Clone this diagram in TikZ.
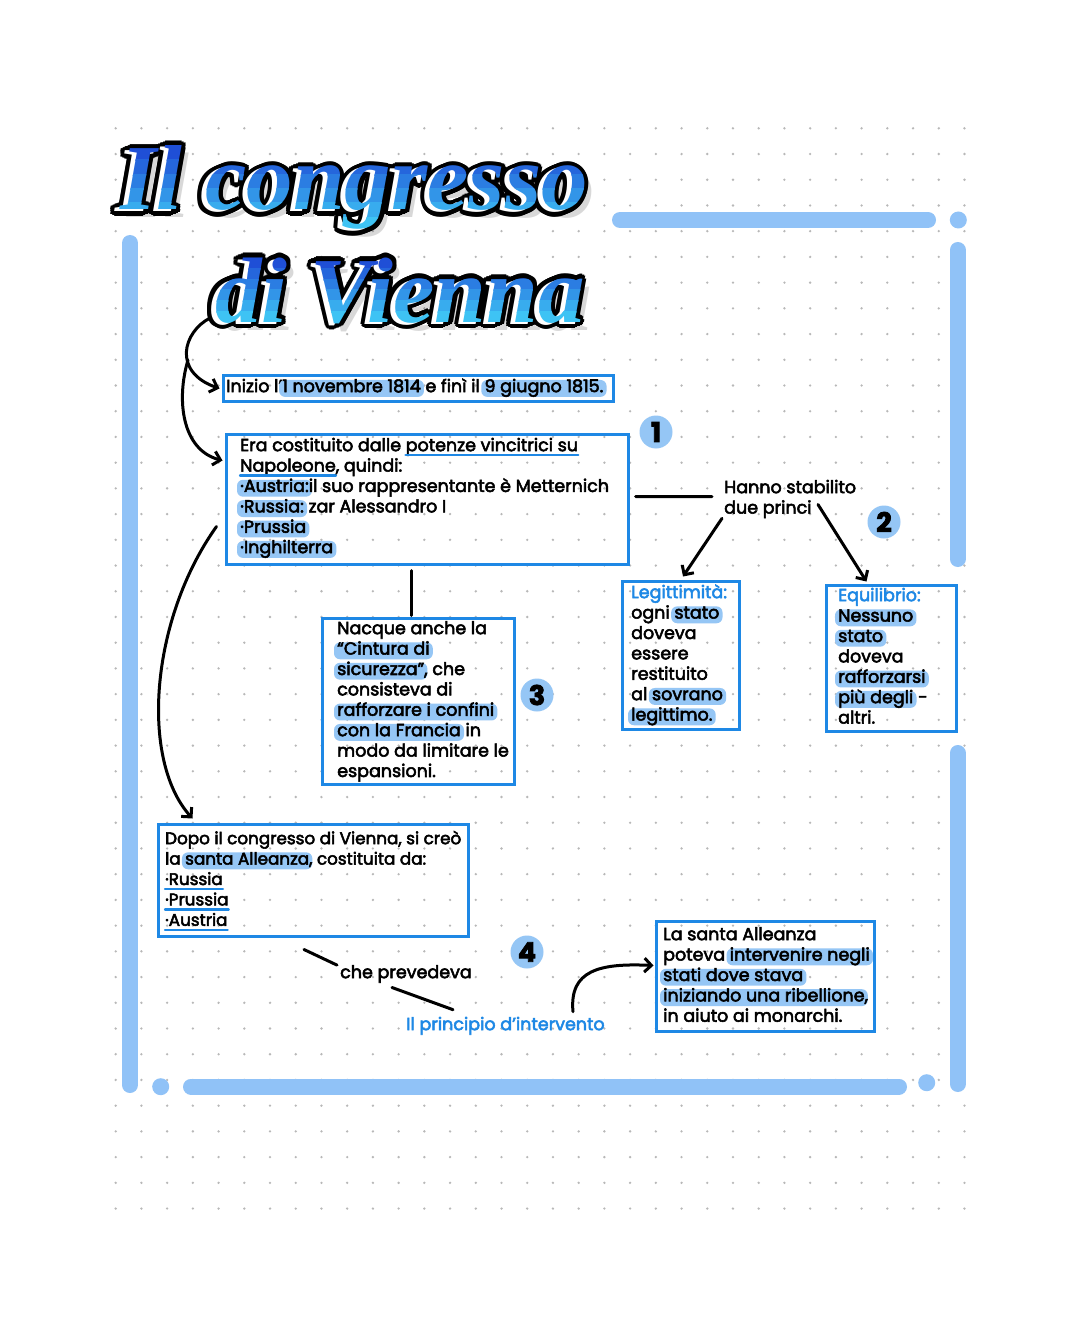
\documentclass[tikz,border=0pt]{standalone}
\usepackage{fontspec}
\usetikzlibrary{arrows.meta}
\setmainfont{Poppins}[FakeBold=3]
\newfontfamily\titlefont{Liberation Serif}
\definecolor{boxblue}{HTML}{1E88E5}
\definecolor{hlc}{HTML}{95C6F5}
\definecolor{framec}{HTML}{90C2F7}
\definecolor{tblue}{HTML}{1E88E5}
\definecolor{dotc}{HTML}{B8B8B8}
\definecolor{tdark}{HTML}{1F4FD6}
\definecolor{tlight}{HTML}{3EC3F4}

\newcommand\hlt[1]{\tikz[baseline=(hlx.base)]{\node[anchor=center,inner sep=0pt,text height=11pt,text depth=3pt](hlx){\phantom{#1}};\fill[hlc,rounded corners=6pt,overlay]([xshift=-3pt,yshift=-1.5pt]hlx.south west) rectangle ([xshift=3pt,yshift=1pt]hlx.north east);\node[anchor=center,inner sep=0pt,text height=11pt,text depth=3pt](hly) at (hlx.center){#1};}}
\newcommand\ulin[1]{\tikz[baseline=(ulx.base)]{\node[anchor=center,inner sep=0pt](ulx){#1};\draw[boxblue,line width=2.3pt,line cap=round,overlay]([yshift=-4pt]ulx.base west)--([yshift=-4pt]ulx.base east);}}

\tikzset{
  txt/.style={inner sep=0pt, anchor=north west, align=left, font=\fontsize{17.5}{20.4}\selectfont},
  boxst/.style={draw=boxblue, line width=3pt, inner sep=0pt, outer sep=0pt, anchor=north west},
  framest/.style={draw=framec, line width=16pt, line cap=round},
  badge/.style={circle, fill=hlc, minimum size=33pt, inner sep=0pt, font=\fontsize{27}{27}\bfseries\selectfont},
  conn/.style={line width=3pt, line cap=round},
  arr/.style={conn, -{Straight Barb[length=7pt,width=14pt]}},
  tstyle/.style={anchor=base west, inner sep=0pt, font=\titlefont\bfseries\itshape\fontsize{93}{93}\selectfont}
}

% title line with outline, white offset copy and stepped gradient
% #1 name, #2 x, #3 baseline y, #4 text, #5 top of letters, #6 bottom of letters
\newcommand\ttlline[6]{%
  \node[tstyle,text=black!60,opacity=.25] (#1-sh) at ({#2+7},{#3+8}) {#4};
  \foreach \i in {0,...,11}{
    \node[tstyle,text=black] (#1-ow\i) at ({#2-5+4.2*cos(\i*30)},{#3+2+4.2*sin(\i*30)}) {#4};
    \node[tstyle,text=black] (#1-o\i) at ({#2+4.2*cos(\i*30)},{#3+4.2*sin(\i*30)}) {#4};
  }
  \node[tstyle,text=white] (#1-w) at ({#2-5},{#3+2}) {#4};
  \foreach \k in {0,...,5}{
    \pgfmathsetmacro\mix{\k*100/5}
    \begin{scope}
      \clip (0,{#5+\k*((#6-#5)/6)-0.5}) rectangle (1080,{#5+(\k+1)*((#6-#5)/6)+0.5});
      \node[tstyle,text=tlight!\mix!tdark] (#1-g\k) at (#2,#3) {#4};
    \end{scope}
  }
}

\begin{document}
\begin{tikzpicture}[x=1pt,y=-1pt]
\useasboundingbox (0,0) rectangle (1080,1337);
\fill[white] (0,0) rectangle (1080,1337);

% dot grid
\foreach \i in {0,...,33}{\foreach \j in {0,...,42}{\fill[dotc] ({115.7+25.72*\i},{128.3+25.72*\j}) circle[radius=1.3pt];}}

% frame
\draw[framest] (130,243) -- (130,1085);
\fill[framec] (160.7,1086.7) circle[radius=8.5pt];
\draw[framest] (191,1086.5) -- (899,1086.5);
\fill[framec] (926.7,1082.7) circle[radius=8.5pt];
\draw[framest] (957.7,753) -- (957.7,1084);
\draw[framest] (957.7,250) -- (957.7,559);
\fill[framec] (958.3,220) circle[radius=8.5pt];
\draw[framest] (620,220) -- (928,220);

% title
\ttlline{ta}{120}{210}{Il congresso}{146}{232}
\ttlline{tb}{215}{322}{di Vienna}{258}{323}

% boxes
\node[boxst, minimum width=390pt, minimum height=26pt] (inizio) at (223.5,375.5) {};
\node[boxst, minimum width=402pt, minimum height=130pt] (era) at (226.5,434.5) {};
\node[boxst, minimum width=117pt, minimum height=148pt] (legit) at (622.5,581.5) {};
\node[boxst, minimum width=130pt, minimum height=146pt] (equi) at (826.5,585.5) {};
\node[boxst, minimum width=192pt, minimum height=166pt] (box3) at (322.5,618.5) {};
\node[boxst, minimum width=310pt, minimum height=112pt] (dopo) at (158.5,824.5) {};
\node[boxst, minimum width=218pt, minimum height=110pt] (santa) at (656.5,921.5) {};

% texts
\node[txt] (inizioT) at (226,377.7) {\strut Inizio l’\hlt{1 novembre 1814} e finì il \hlt{9 giugno 1815.}};
\node[txt] (eraT) at (240,436.7) {\strut Era costituito dalle \ulin{potenze vincitrici su}\\
\ulin{Napoleone}, quindi:\\
\hlt{·Austria:}il suo rappresentante è Metternich\\
\hlt{·Russia:} zar Alessandro I\\
\hlt{·Prussia}\\
\hlt{·Inghilterra}};
\node[txt] (hanno) at (724,478.7) {\strut Hanno stabilito\\due princi};
\node[txt] (legitT) at (631,583.7) {\strut {\color{tblue}Legittimità:}\\
ogni \hlt{stato}\\
doveva\\
essere\\
restituito\\
al \hlt{sovrano}\\
\hlt{legittimo.}};
\node[txt] (equiT) at (838,586.7) {\strut {\color{tblue}Equilibrio:}\\
\hlt{Nessuno}\\
\hlt{stato}\\
doveva\\
\hlt{rafforzarsi}\\
\hlt{più degli} -\\
altri.};
\node[txt] (box3T) at (337,619.7) {\strut Nacque anche la\\
\hlt{“Cintura di}\\
\hlt{sicurezza”}, che\\
consisteva di\\
\hlt{rafforzare i confini}\\
\hlt{con la Francia} in\\
modo da limitare le\\
espansioni.};
\node[txt, font=\fontsize{16.8}{20.4}\selectfont] (dopoT) at (165,829.7) {\strut Dopo il congresso di Vienna, si creò\\
la \hlt{santa Alleanza}, costituita da:\\
\ulin{·Russia}\\
\ulin{·Prussia}\\
\ulin{·Austria}};
\node[txt] (che) at (340,963.7) {\strut che prevedeva};
\node[txt, text=tblue] (princ) at (406,1015.7) {\strut Il principio d’intervento};
\node[txt] (santaT) at (663,925.7) {\strut La santa Alleanza\\
poteva \hlt{intervenire negli}\\
\hlt{stati dove stava}\\
\hlt{iniziando una ribellione},\\
in aiuto ai monarchi.};

% badges
\node[badge] (b1) at (656,432) {1};
\node[badge] (b2) at (884,522) {2};
\node[badge] (b3) at (537,695) {3};
\node[badge] (b4) at (527,952) {4};

% connectors
\coordinate (c0) at (210,318);
\coordinate (c1) at (188,360);
\draw[arr] (c0) .. controls (183,332) and (172,372) .. ([xshift=-4pt]inizio.west);
\draw[arr] (c1) .. controls (176,400) and (182,450) .. ([xshift=-4pt,yshift=-26pt]era.north west);
\draw[arr] ([xshift=-10pt,yshift=-92pt]era.north west) .. controls (150,620) and (140,760) .. ([xshift=34pt,yshift=6pt]dopo.north west);
\draw[conn] ([xshift=7pt,yshift=3pt]era.east) -- ([xshift=-12pt,yshift=2pt]hanno.west);
\draw[arr] ([xshift=-2pt]hanno.south west) -- ([xshift=2pt,yshift=5pt]legit.north);
\draw[arr] ([xshift=94pt,yshift=-6pt]hanno.west) -- ([xshift=-25pt,yshift=4pt]equi.north);
\draw[conn] ([xshift=-16.5pt,yshift=-6pt]era.south) -- ([xshift=-7.5pt,yshift=3pt]box3.north);
\draw[conn] ([xshift=-9.5pt,yshift=-13pt]dopo.south) -- ([xshift=-3pt,yshift=9pt]che.west);
\draw[conn] ([xshift=52pt,yshift=-3pt]che.south west) -- ([xshift=47pt,yshift=6pt]princ.north west);
\draw[arr] ([xshift=167pt,yshift=4pt]princ.north west) .. controls (569,970) and (600,963) .. ([xshift=-3pt,yshift=11pt]santa.west);
\end{tikzpicture}
\end{document}
